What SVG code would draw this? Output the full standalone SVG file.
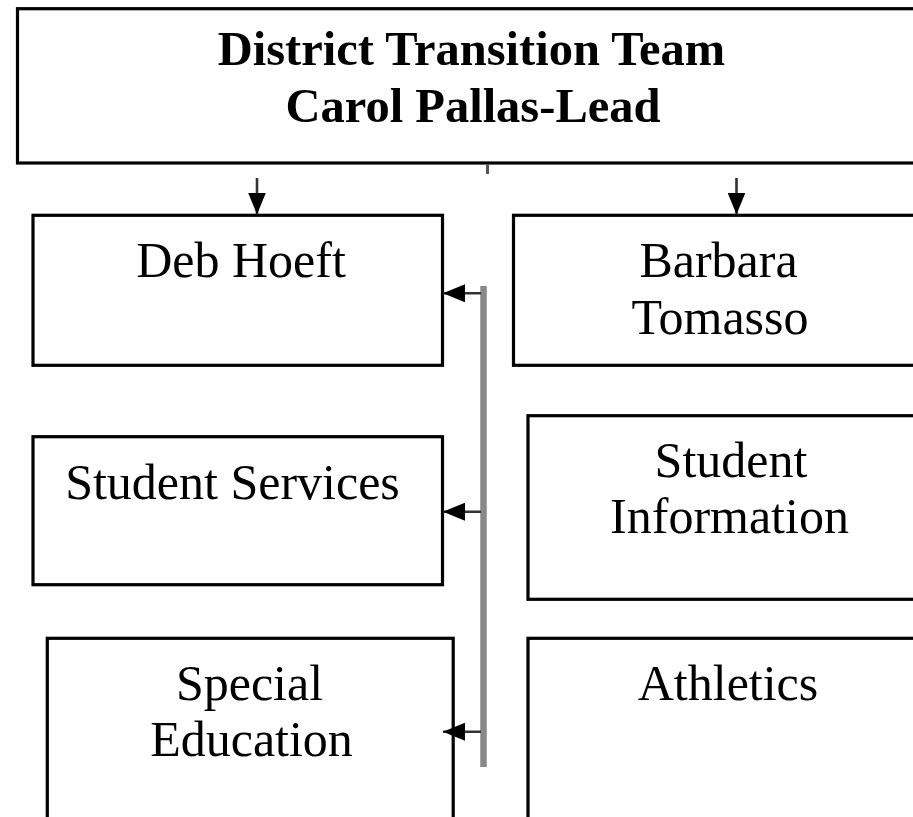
<svg xmlns="http://www.w3.org/2000/svg" width="913" height="817" viewBox="0 0 913 817">
  <style>
    .box { fill: #ffffff; stroke: #000000; stroke-width: 3.2; }
    .t { font-family: "Liberation Serif", "Times New Roman", serif; font-size: 50px; fill: #000000; text-anchor: middle; }
    .tb { font-family: "Liberation Serif", "Times New Roman", serif; font-size: 48.5px; font-weight: bold; fill: #000000; text-anchor: middle; }
    .stem { stroke: #333333; stroke-width: 2.6; fill: none; }
    .bus { stroke: #888888; stroke-width: 6.5; fill: none; }
  </style>
  <defs>
    <marker id="ah" viewBox="0 0 22 18" refX="22" refY="9" markerWidth="22" markerHeight="18" markerUnits="userSpaceOnUse" orient="auto">
      <path d="M0,0 L22,9 L0,18 Z" fill="#000000"/>
    </marker>
  </defs>
  <rect width="913" height="817" fill="#ffffff"/>

  <g id="team">
    <rect class="box" x="17.5" y="8.7" width="920" height="154.3"/>
    <text class="tb" x="471.5" y="65">District Transition  Team</text>
    <text class="tb" x="473" y="122">Carol Pallas-Lead</text>
  </g>

  <g id="deb">
    <rect class="box" x="33" y="215.3" width="409.5" height="150"/>
    <text class="t" x="241" y="277">Deb Hoeft</text>
  </g>

  <g id="barbara">
    <rect class="box" x="513.5" y="215.3" width="420" height="150"/>
    <text class="t" x="718.5" y="277">Barbara</text>
    <text class="t" x="720" y="334">Tomasso</text>
  </g>

  <g id="student-services">
    <rect class="box" x="33" y="436.7" width="409.5" height="148"/>
    <text class="t" x="232.5" y="499">Student Services</text>
  </g>

  <g id="student-information">
    <rect class="box" x="528" y="415.7" width="420" height="183.6"/>
    <text class="t" x="731" y="477">Student</text>
    <text class="t" x="729.5" y="533">Information</text>
  </g>

  <g id="special-education">
    <rect class="box" x="47.3" y="638.3" width="405.9" height="220"/>
    <text class="t" x="249.5" y="700">Special</text>
    <text class="t" x="251.5" y="756">Education</text>
  </g>

  <g id="athletics">
    <rect class="box" x="528" y="638.3" width="420" height="220"/>
    <text class="t" x="728" y="700">Athletics</text>
  </g>

  <g id="connectors">
    <line x1="487.5" y1="164" x2="487.5" y2="174" stroke="#555555" stroke-width="3"/>
    <line class="stem" x1="257" y1="178" x2="257" y2="214.5" marker-end="url(#ah)"/>
    <line class="stem" x1="736.5" y1="178" x2="736.5" y2="214.5" marker-end="url(#ah)"/>
    <line class="bus" x1="483.5" y1="286" x2="483.5" y2="767"/>
    <line class="stem" x1="481" y1="293.3" x2="443" y2="293.3" marker-end="url(#ah)"/>
    <line class="stem" x1="481" y1="511.7" x2="443" y2="511.7" marker-end="url(#ah)"/>
    <line class="stem" x1="481" y1="731.7" x2="443" y2="731.7" marker-end="url(#ah)"/>
  </g>
</svg>
